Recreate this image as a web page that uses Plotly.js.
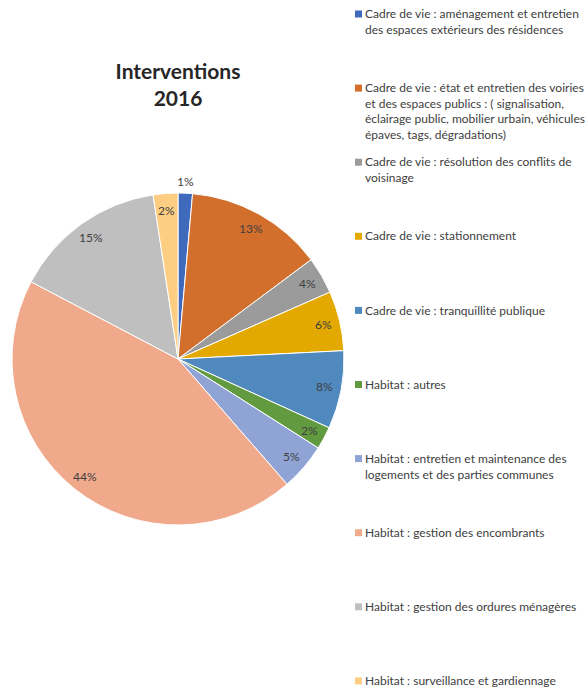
<!DOCTYPE html>
<html>
<head>
<meta charset="utf-8">
<script src="https://cdn.plot.ly/plotly-3.0.1.min.js"></script>
<style>html,body{margin:0;padding:0;background:#fff;}#chart{width:587px;height:690px;}</style>
</head>
<body>
<div id="chart"></div>
<script>
// ---- data ----
var categories = [
  "Cadre de vie : aménagement et entretien<br>des espaces extérieurs des résidences",
  "Cadre de vie : état et entretien des voiries<br>et des espaces publics : ( signalisation,<br>éclairage public, mobilier urbain, véhicules<br>épaves, tags, dégradations)",
  "Cadre de vie : résolution des conflits de<br>voisinage",
  "Cadre de vie : stationnement",
  "Cadre de vie : tranquillité publique",
  "Habitat : autres",
  "Habitat : entretien et maintenance des<br>logements et des parties communes",
  "Habitat : gestion des encombrants",
  "Habitat : gestion des ordures ménagères",
  "Habitat : surveillance et gardiennage"
];
var shares = [1.4, 13.4, 3.6, 5.8, 7.6, 2.2, 4.6, 44.1, 14.9, 2.4];
var colors = ["#3F69BA", "#D36F2D", "#9B9B9B", "#E3A900", "#4F89BE",
              "#629A40", "#8FA4D5", "#F0A98B", "#BFBFBF", "#FDCD82"];
var titleText = "Interventions<br>2016";

// ---- layout constants ----
var W = 587, H = 690;
var cx = 178, cy = 359, R = 166;
function px(x) { return x / W; }
function py(y) { return 1 - y / H; }

var trace = {
  type: "pie",
  values: shares,
  labels: categories.map(function (c) { return c.replace(/<br>/g, " "); }),
  sort: false,
  direction: "clockwise",
  rotation: 0,
  textinfo: "none",
  hoverinfo: "label+percent",
  marker: { colors: colors, line: { color: "#ffffff", width: 1 } },
  domain: { x: [px(cx - R), px(cx + R)], y: [py(cy + R), py(cy - R)] },
  showlegend: false
};

var total = shares.reduce(function (a, b) { return a + b; }, 0);
var annotations = [];
var shapes = [];

// percentage labels
var cum = 0;
shares.forEach(function (v) {
  var frac = v / total;
  var mid = cum + frac / 2;
  cum += frac;
  var ang = mid * 2 * Math.PI;
  var rr = frac < 0.015 ? 1.07 * R : 0.9 * R;
  annotations.push({
    x: px(cx + rr * Math.sin(ang)), y: py(cy - rr * Math.cos(ang)),
    xref: "paper", yref: "paper", showarrow: false,
    text: Math.round(frac * 100) + "%",
    font: { family: "Lato, sans-serif", size: 12, color: "#404040" },
    xanchor: "center", yanchor: "middle"
  });
});

// legend (text + colour squares)
var legTop = 14, legStep = 74.1, legSq = 7, legSqX = 355, legTextX = 364;
categories.forEach(function (c, i) {
  var yc = legTop + legStep * i;
  shapes.push({
    type: "rect", xref: "paper", yref: "paper",
    x0: px(legSqX), x1: px(legSqX + legSq),
    y0: py(yc + legSq / 2), y1: py(yc - legSq / 2),
    fillcolor: colors[i], line: { width: 0 }
  });
  annotations.push({
    x: px(legTextX), y: py(yc - 8.8),
    xref: "paper", yref: "paper", showarrow: false,
    text: c, align: "left",
    font: { family: "Lato, sans-serif", size: 12, color: "#404040" },
    xanchor: "left", yanchor: "top", borderpad: 0
  });
});

var layout = {
  width: W, height: H,
  margin: { l: 0, r: 0, t: 0, b: 0 },
  paper_bgcolor: "#ffffff",
  title: {
    text: titleText,
    x: px(178), xanchor: "center",
    y: py(79), yanchor: "top",
    font: { family: "Lato, sans-serif", size: 21, color: "#262626", weight: "bold" }
  },
  annotations: annotations,
  shapes: shapes,
  showlegend: false
};

Plotly.newPlot("chart", [trace], layout, { displayModeBar: false, staticPlot: true });
</script>
</body>
</html>
